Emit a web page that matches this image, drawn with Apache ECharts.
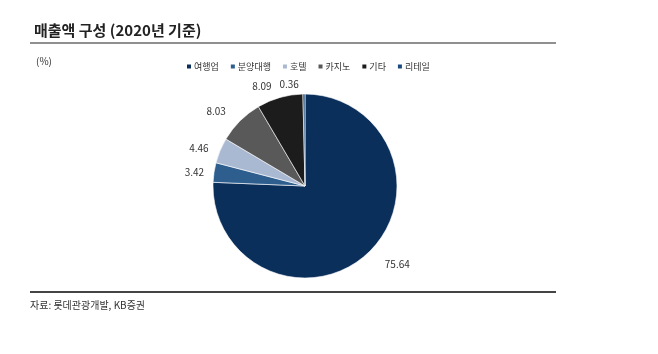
<!DOCTYPE html>
<html>
<head>
<meta charset="utf-8">
<script src="https://cdn.jsdelivr.net/npm/echarts@6/dist/echarts.min.js"></script>
<style>
  html, body { margin: 0; padding: 0; background: #fff; }
  #main { width: 658px; height: 354px; }
</style>
</head>
<body>
<div id="main"></div>
<script>
// 매출액 구성 데이터 (%)
const categories = ["여행업", "분양대행", "호텔", "카지노", "기타", "리테일"];
const shares = [75.64, 3.42, 4.46, 8.03, 8.09, 0.36];
const colors = ["#0b2f5b", "#2d5e8e", "#aab9d2", "#595959", "#1c1c1c", "#1b4a7e"];
// 라벨 거리 (엑셀 배치 흉내)
const labelGaps = [16, 5, 7, 13, 12, 10];

const font = "'Noto Sans CJK KR', 'Noto Sans', sans-serif";

const chart = echarts.init(document.getElementById("main"));
chart.setOption({
  color: colors,
  textStyle: { fontFamily: font },
  title: {
    text: "매출액 구성 (2020년 기준)",
    left: 29,
    top: 18,
    textStyle: { fontSize: 15, fontWeight: "bold", color: "#222", fontFamily: font },
  },
  legend: {
    data: categories,
    top: 57,
    left: 180,
    itemWidth: 6,
    itemHeight: 6,
    itemGap: 10,
    icon: "rect",
    textStyle: { fontSize: 9, color: "#333", padding: [0, 0, 0, -3] },
  },
  graphic: [
    { type: "line", shape: { x1: 30, y1: 43, x2: 556, y2: 43 }, style: { stroke: "#222", lineWidth: 1.2 } },
    { type: "line", shape: { x1: 30, y1: 292, x2: 556, y2: 292 }, style: { stroke: "#444", lineWidth: 2 } },
    { type: "text", left: 36, top: 56, style: { text: "(%)", fontSize: 10, fill: "#333", fontFamily: font } },
    { type: "text", left: 30, top: 300, style: { text: "자료: 롯데관광개발, KB증권", fontSize: 10, fill: "#333", fontFamily: font } },
  ],
  series: [
    {
      type: "pie",
      center: [305, 186],
      radius: 92,
      startAngle: 90,
      clockwise: true,
      avoidLabelOverlap: false,
      itemStyle: { borderColor: "#fff", borderWidth: 0.6 },
      label: { show: true, position: "outside", fontSize: 10, color: "#333",
        formatter: (p) => p.value.toFixed(2) },
      labelLine: { show: false, length: 8, length2: 0 },
      emphasis: { disabled: true },
      data: categories.map((c, i) => ({
        name: c,
        value: shares[i],
        labelLine: { show: false, length: labelGaps[i], length2: 0 },
      })),
    },
  ],
});
</script>
</body>
</html>
